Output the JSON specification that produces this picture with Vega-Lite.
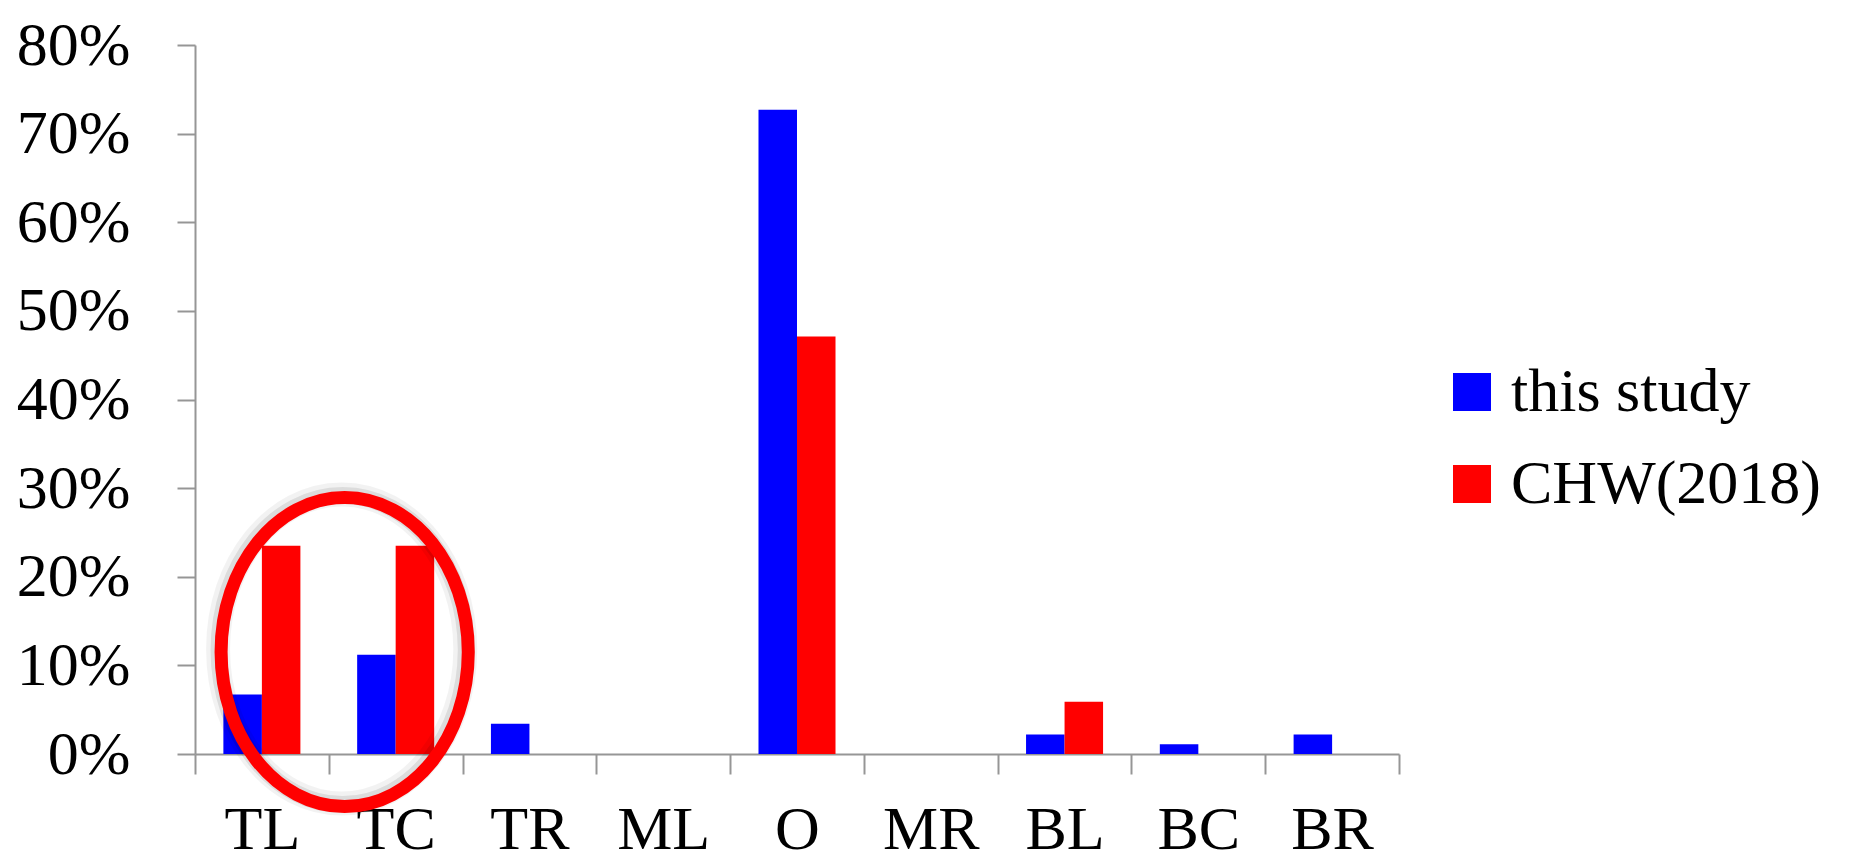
{
  "$schema": "https://vega.github.io/schema/vega-lite/v6.json",
  "width": 1204,
  "height": 709,
  "autosize": "none",
  "padding": {"left": 195, "top": 45, "right": 456, "bottom": 106},
  "background": "white",
  "config": {"view": {"stroke": null}, "font": "Liberation Serif"},
  "layer": [
    {
      "data": {"values": [
        {"category": "TL", "series": "this study", "value": 0.067},
        {"category": "TL", "series": "CHW(2018)", "value": 0.235},
        {"category": "TC", "series": "this study", "value": 0.112},
        {"category": "TC", "series": "CHW(2018)", "value": 0.235},
        {"category": "TR", "series": "this study", "value": 0.034},
        {"category": "TR", "series": "CHW(2018)", "value": 0},
        {"category": "ML", "series": "this study", "value": 0},
        {"category": "ML", "series": "CHW(2018)", "value": 0},
        {"category": "O", "series": "this study", "value": 0.727},
        {"category": "O", "series": "CHW(2018)", "value": 0.471},
        {"category": "MR", "series": "this study", "value": 0},
        {"category": "MR", "series": "CHW(2018)", "value": 0},
        {"category": "BL", "series": "this study", "value": 0.022},
        {"category": "BL", "series": "CHW(2018)", "value": 0.059},
        {"category": "BC", "series": "this study", "value": 0.011},
        {"category": "BC", "series": "CHW(2018)", "value": 0},
        {"category": "BR", "series": "this study", "value": 0.022},
        {"category": "BR", "series": "CHW(2018)", "value": 0}
      ]},
      "mark": {"type": "bar"},
      "encoding": {
        "x": {
          "field": "category", "type": "nominal",
          "scale": {"domain": ["TL", "TC", "TR", "ML", "O", "MR", "BL", "BC", "BR"], "paddingInner": 0, "paddingOuter": 0},
          "axis": {"title": null, "labelAngle": 0, "tickBand": "extent", "tickSize": 20, "tickWidth": 2, "tickColor": "#969696", "domainColor": "#969696", "domainWidth": 2, "labelFontSize": 62, "labelFont": "Liberation Serif", "labelColor": "#000000", "labelPadding": 25, "grid": false}
        },
        "xOffset": {
          "field": "series", "type": "nominal",
          "scale": {"domain": ["this study", "CHW(2018)"], "paddingInner": 0, "paddingOuter": 0.737}
        },
        "y": {
          "field": "value", "type": "quantitative",
          "scale": {"domain": [0, 0.8]},
          "axis": {"title": null, "values": [0, 0.1, 0.2, 0.3, 0.4, 0.5, 0.6, 0.7, 0.8], "format": ".0%", "tickSize": 18, "tickWidth": 2, "tickColor": "#969696", "domainColor": "#969696", "domainWidth": 2, "labelFontSize": 62, "labelFont": "Liberation Serif", "labelColor": "#000000", "labelPadding": 47, "grid": false}
        },
        "color": {
          "field": "series", "type": "nominal",
          "scale": {"domain": ["this study", "CHW(2018)"], "range": ["#0000ff", "#ff0000"]},
          "legend": {"title": null, "orient": "none", "legendX": 1246, "legendY": 316, "symbolType": "square", "symbolSize": 1444, "symbolStrokeWidth": 0, "symbolOpacity": 1, "labelFontSize": 62, "labelFont": "Liberation Serif", "labelColor": "#000000", "labelOffset": 8, "labelLimit": 0, "rowPadding": 30, "padding": 0}
        }
      }
    },
    {
      "data": {"values": [{"category": "TC", "value": 0.115}]},
      "mark": {"type": "point", "shape": "M -0.8 0 A 0.8 1 0 1 0 0.8 0 A 0.8 1 0 1 0 -0.8 0 Z", "size": 95481, "filled": false, "fill": null, "stroke": "#000000", "strokeOpacity": 0.05, "strokeWidth": 24, "opacity": 1, "xOffset": -54, "yOffset": -3},
      "encoding": {
        "x": {"field": "category", "type": "nominal"},
        "y": {"field": "value", "type": "quantitative"}
      }
    },
    {
      "data": {"values": [{"category": "TC", "value": 0.115}]},
      "mark": {"type": "point", "shape": "M -0.8 0 A 0.8 1 0 1 0 0.8 0 A 0.8 1 0 1 0 -0.8 0 Z", "size": 95481, "filled": false, "fill": null, "stroke": "#000000", "strokeOpacity": 0.09, "strokeWidth": 17, "opacity": 1, "xOffset": -53, "yOffset": -2},
      "encoding": {
        "x": {"field": "category", "type": "nominal"},
        "y": {"field": "value", "type": "quantitative"}
      }
    },
    {
      "data": {"values": [{"category": "TC", "value": 0.115}]},
      "mark": {"type": "point", "shape": "M -0.8 0 A 0.8 1 0 1 0 0.8 0 A 0.8 1 0 1 0 -0.8 0 Z", "size": 95481, "filled": false, "fill": null, "stroke": "#ff0000", "strokeWidth": 13, "opacity": 1, "xOffset": -51},
      "encoding": {
        "x": {"field": "category", "type": "nominal"},
        "y": {"field": "value", "type": "quantitative"}
      }
    }
  ]
}
